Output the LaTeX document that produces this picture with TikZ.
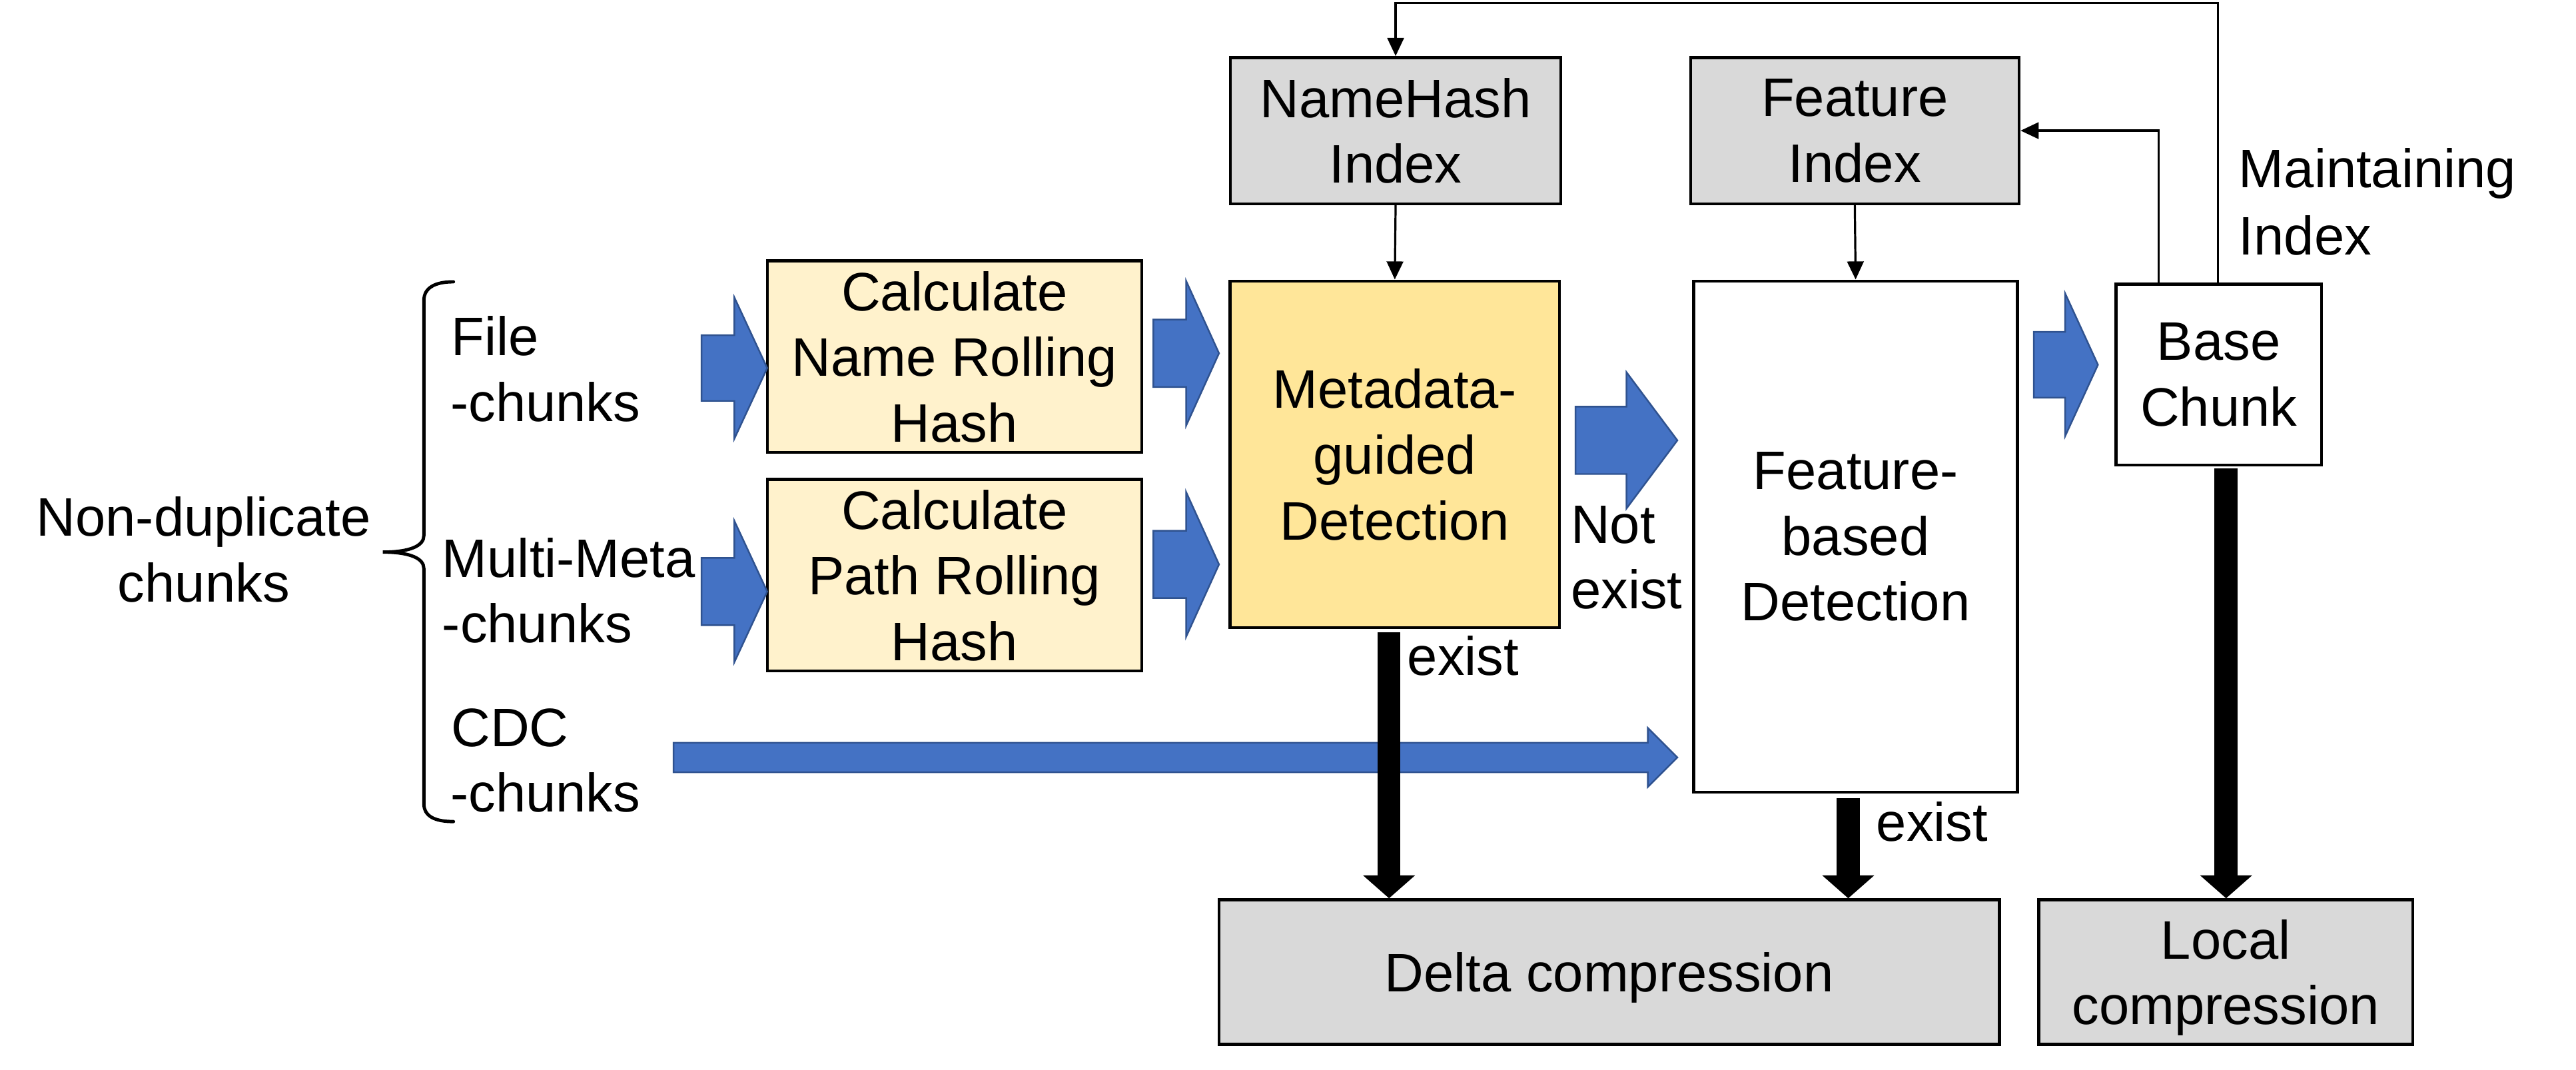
\documentclass[tikz,border=0pt]{standalone}
\usepackage{fontspec}
\setmainfont{Liberation Sans}
\usetikzlibrary{arrows.meta}
\definecolor{boxgray}{HTML}{D9D9D9}
\definecolor{calcyel}{HTML}{FFF2CC}
\definecolor{metayel}{HTML}{FFE699}
\definecolor{arrblue}{HTML}{4472C4}
\definecolor{arrbord}{HTML}{2F528F}
% block arrow: x0, xhead, xtip, ycenter, shaft half, head half
\newcommand{\blkarrow}[6]{%
  \filldraw[blockarr] (#1,#4-#5) -- (#2,#4-#5) -- (#2,#4-#6) -- (#3,#4) -- (#2,#4+#6) -- (#2,#4+#5) -- (#1,#4+#5) -- cycle;
}
\begin{document}
\begin{tikzpicture}[x=1pt,y=-1pt,
  box/.style={draw, line width=1.8pt, align=center, text depth=0pt, inner sep=0pt,
    font=\fontsize{33}{40}\selectfont},
  lbl/.style={inner sep=0pt, font=\fontsize{33}{40}\selectfont},
  conn/.style={line width=1.3pt, -{Triangle[width=10pt,length=11pt]}},
  thickarr/.style={line width=14pt, -{Triangle[width=31pt,length=14pt]}},
  blockarr/.style={fill=arrblue, draw=arrbord, line width=1pt, line join=miter},
  bracestyle/.style={line width=2pt, line cap=round}]
\useasboundingbox (0,0) rectangle (1568,651);
\fill[white] (0,0) rectangle (1568,651);

% boxes
\node[box, fill=boxgray, minimum width=201pt, minimum height=89pt] (namehash) at (849.5,79.5) {NameHash\\Index};
\node[box, fill=boxgray, minimum width=200pt, minimum height=89pt] (featidx) at (1129,79.5) {Feature\\Index};
\node[box, fill=calcyel, minimum width=228pt, minimum height=116.5pt] (calcname) at (581,217) {Calculate\\Name Rolling\\Hash};
\node[box, fill=calcyel, minimum width=228pt, minimum height=116.5pt] (calcpath) at (581,350) {Calculate\\Path Rolling\\Hash};
\node[box, fill=metayel, minimum width=200.5pt, minimum height=211pt] (meta) at (849,276.5) {Metadata-\\guided\\Detection};
\node[box, fill=white, minimum width=197pt, minimum height=311pt] (feature) at (1129.5,326.5) {Feature-\\based\\Detection};
\node[box, fill=white, minimum width=125pt, minimum height=110pt] (base) at (1350.5,228) {Base\\Chunk};
\node[box, fill=boxgray, minimum width=475pt, minimum height=88pt] (delta) at (979.5,591.6) {Delta compression};
\node[box, fill=boxgray, minimum width=227.6pt, minimum height=88pt] (local) at (1354.8,591.6) {Local\\compression};

% labels
\node[lbl, anchor=base] (nondup1) at (124,326.4) {Non-duplicate};
\node[lbl, anchor=base] (nondup2) at (124,366.4) {chunks};
\node[lbl, anchor=base west] (file1) at (274.5,216.5) {File};
\node[lbl, anchor=base west] (file2) at (274,256.5) {-chunks};
\node[lbl, anchor=base west] (multi1) at (269,351.5) {Multi-Meta};
\node[lbl, anchor=base west] (multi2) at (269,391) {-chunks};
\node[lbl, anchor=base west] (cdc1) at (274.5,454.3) {CDC};
\node[lbl, anchor=base west] (cdc2) at (274,494) {-chunks};
\node[lbl, anchor=base west] (maint1) at (1362.6,114) {Maintaining};
\node[lbl, anchor=base west] (maint2) at (1362.6,155) {Index};
\node[lbl, anchor=base west] (notex1) at (956,330.5) {Not};
\node[lbl, anchor=base west] (notex2) at (956,370.5) {exist};
\node[lbl, anchor=base west] (exist1) at (856.5,411) {exist};
\node[lbl, anchor=base west] (exist2) at (1142,512) {exist};

% brace
\draw[bracestyle] (276,171.5) .. controls (265,171.5) and (258,175) .. (258,183) -- (258,326)
  .. controls (258,332) and (250,336) .. (233,336)
  .. controls (250,336) and (258,340) .. (258,346) -- (258,489)
  .. controls (258,497) and (265,500) .. (276,500);

% blue block arrows
\blkarrow{427}{447}{467}{224}{20}{43}
\blkarrow{427}{447}{467}{360}{20.5}{43}
\blkarrow{702}{722}{742}{215}{20.5}{44}
\blkarrow{702}{722}{742}{343.5}{20.5}{44}
\blkarrow{959}{990}{1021}{268}{20.5}{41.5}
\blkarrow{410}{1003}{1021}{461}{9}{18}
\blkarrow{1238}{1257}{1277}{222}{20}{43.5}

% thin connectors
\coordinate (topy) at (0,1.8);
\draw[conn] ([xshift=-0.5pt]base.north) -- ([xshift=-0.5pt]base.north |- topy) -- (namehash.north |- topy) -- (namehash.north);
\draw[conn] ([xshift=-36.5pt]base.north) |- (featidx.east);
\draw[conn] (namehash.south) -- (meta.north);
\draw[conn] (featidx.south) -- (feature.north);

% thick arrows
\draw[thickarr] ([xshift=-3.5pt,yshift=-2pt]meta.south) -- ([xshift=-3.5pt]meta.south |- delta.north);
\draw[thickarr] ([xshift=-4.5pt,yshift=-3pt]feature.south) -- ([xshift=-4.5pt]feature.south |- delta.north);
\draw[thickarr] ([xshift=4.5pt,yshift=-1pt]base.south) -- ([xshift=4.5pt]base.south |- local.north);
\end{tikzpicture}
\end{document}
